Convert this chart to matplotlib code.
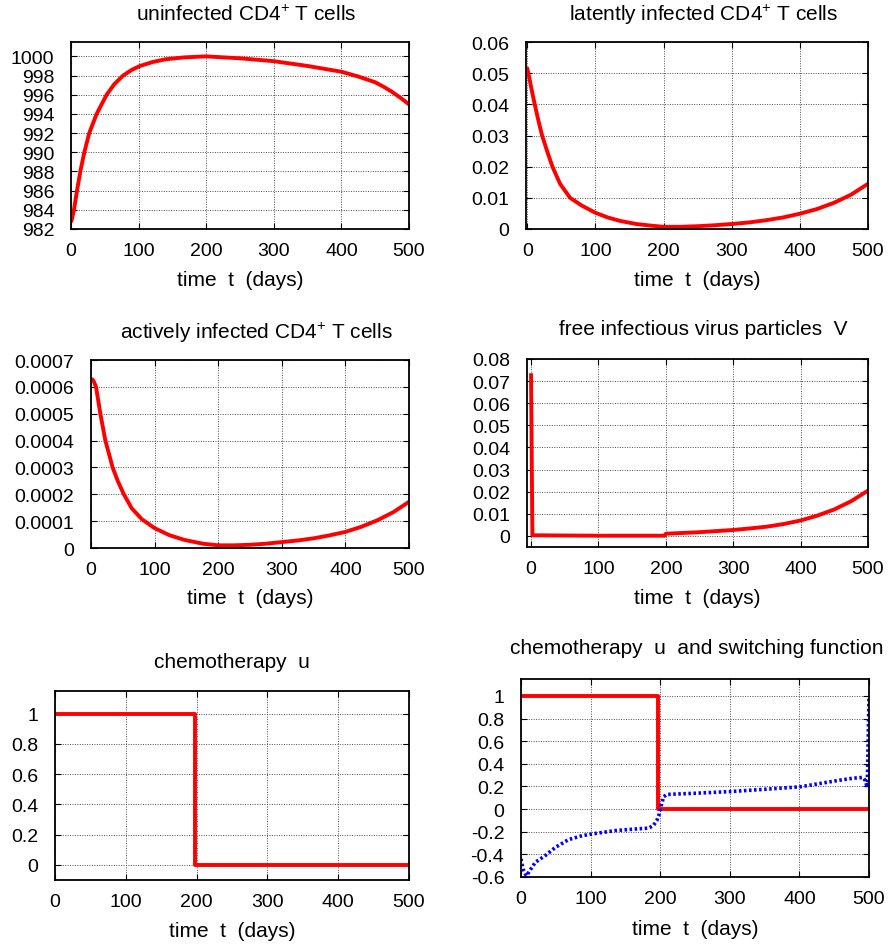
import matplotlib
matplotlib.use("Agg")
from matplotlib import pyplot as plt

plt.rcParams['font.family'] = ['Liberation Sans', 'DejaVu Sans']
plt.rcParams['mathtext.fontset'] = 'custom'
plt.rcParams['mathtext.rm'] = 'Liberation Sans'
plt.rcParams['mathtext.it'] = 'Liberation Sans'
plt.rcParams['font.size'] = 14

# --- data ---
t_T = [0, 1, 4.4, 8.9, 13.8, 19.7, 27, 37.9, 52.7, 64, 77, 90, 102, 120, 140, 168, 200, 250, 300,
       350, 400, 425, 450, 462, 475, 487, 500]
T = [982.8, 982.9, 984.0, 986.0, 988.0, 990.0, 992.0, 994.0, 996.0, 997.1, 998.0, 998.6, 999.0, 999.4,
     999.7, 999.9, 1000.0, 999.8, 999.5, 999.0, 998.4, 997.9, 997.3, 996.85, 996.3, 995.7, 995.0]

t_L = [0, 1.5, 6, 10.8, 16, 21.6, 29, 36.8, 48, 62.7, 80, 100, 118, 136, 160, 185, 200, 225, 250, 275,
       300, 325, 350, 375, 400, 425, 450, 475, 500]
L = [0.0513, 0.050, 0.045, 0.040, 0.035, 0.030, 0.025, 0.020, 0.0145, 0.010, 0.0075, 0.0052, 0.0037,
     0.0026, 0.0016, 0.0010, 0.0007, 0.0007, 0.0009, 0.0012, 0.0016, 0.0021, 0.0028, 0.0037, 0.0049,
     0.0064, 0.0084, 0.0110, 0.0145]

t_A = [0, 2, 4, 7.9, 14.7, 22.6, 34, 42, 51.6, 64, 80, 100, 123, 147, 176, 200, 225, 250, 275, 300,
       325, 350, 375, 400, 425, 450, 475, 500]
A = [0.000624, 0.000628, 0.000622, 0.0006, 0.0005, 0.0004, 0.0003, 0.00025, 0.0002, 0.000148, 0.000107,
     0.000074, 0.000048, 0.00003, 0.000016, 0.00001, 0.00001, 0.000012, 0.000016, 0.000022, 0.000028,
     0.000036, 0.000047, 0.00006, 0.000079, 0.000103, 0.000133, 0.000172]

t_V = [0, 2, 50, 100, 150, 198, 200, 250, 300, 325, 350, 375, 400, 425, 450, 475, 500]
V = [0.0727, 0.0003, 0.0002, 0.0001, 0.0001, 0.0001, 0.0010, 0.0017, 0.0027, 0.0034, 0.0042, 0.0054,
     0.0070, 0.0092, 0.0120, 0.0157, 0.0205]

t_u = [0, 197.5, 197.5, 500]
u = [1, 1, 0, 0]

t_s = [0, 3, 6, 8, 12, 20.6, 35, 49, 68, 87.6, 107, 135, 164, 183, 190, 195, 198.6, 201.4, 205, 210,
       250, 300, 350, 401, 429, 458, 477, 491, 495, 497.5, 500]
s = [-0.44, -0.53, -0.57, -0.59, -0.55, -0.47, -0.41, -0.34, -0.27, -0.235, -0.215, -0.19, -0.176,
     -0.168, -0.147, -0.103, -0.044, 0.03, 0.11, 0.13, 0.14, 0.155, 0.175, 0.197, 0.226, 0.256, 0.273,
     0.28, 0.25, 0.19, 1.0]

x_ticks = [0, 100, 200, 300, 400, 500]
W, H = 891, 945
RED = '#ff0000'

fig = plt.figure(figsize=(W / 100, H / 100), dpi=100)


def add_panel(left, right, top, bottom):
    ax = fig.add_axes([left / W, 1 - bottom / H, (right - left) / W, (bottom - top) / H])
    ax.grid(True, color='0.3', linestyle=(0, (1, 1.5)), linewidth=0.7)
    ax.tick_params(direction='in', top=True, right=True, length=4, width=0.8, labelsize=14)
    ax.tick_params(axis='y', pad=12)
    ax.tick_params(axis='x', pad=9.5)
    for sp in ax.spines.values():
        sp.set_linewidth(1.3)
    ax.set_xticks(x_ticks)
    ax.set_xticklabels([str(v) for v in x_ticks])
    return ax


def label(x, y, text):
    fig.text(x / W, 1 - y / H, text, ha='center', va='center', fontsize=15)


xlab = "time  t  (days)"

# uninfected
ax = add_panel(71, 409, 43, 230)
ax.plot(t_T, T, color=RED, lw=2.8)
ax.set_xlim(0, 500)
ax.set_ylim(982, 1001.5)
ax.set_yticks(range(982, 1001, 2))
label(246, 15, r"uninfected CD4$^{+}$ T cells")
label(240, 280, xlab)

# latently infected
ax = add_panel(526, 868, 43, 230)
ax.plot(t_L, L, color=RED, lw=2.8)
ax.set_xlim(-2, 500)
ax.set_ylim(0, 0.06)
ax.set_yticks([0, 0.01, 0.02, 0.03, 0.04, 0.05, 0.06])
ax.set_yticklabels(["0", "0.01", "0.02", "0.03", "0.04", "0.05", "0.06"])
label(704, 15, r"latently infected CD4$^{+}$ T cells")
label(697, 280, xlab)

# actively infected
ax = add_panel(91, 409, 361, 549)
ax.plot(t_A, A, color=RED, lw=2.8)
ax.set_xlim(0, 500)
ax.set_ylim(0, 0.0007)
ax.set_yticks([0, 0.0001, 0.0002, 0.0003, 0.0004, 0.0005, 0.0006, 0.0007])
ax.set_yticklabels(["0", "0.0001", "0.0002", "0.0003", "0.0004", "0.0005", "0.0006", "0.0007"])
label(256, 333, r"actively infected CD4$^{+}$ T cells")
label(250, 598, xlab)

# free virus
ax = add_panel(527, 868, 360, 548)
ax.plot(t_V, V, color=RED, lw=2.8)
ax.set_xlim(-6, 500)
ax.set_ylim(-0.005, 0.08)
ax.set_yticks([0, 0.01, 0.02, 0.03, 0.04, 0.05, 0.06, 0.07, 0.08])
ax.set_yticklabels(["0", "0.01", "0.02", "0.03", "0.04", "0.05", "0.06", "0.07", "0.08"])
label(703, 330, "free infectious virus particles  V")
label(697, 598, xlab)

# chemotherapy u
ax = add_panel(55, 409, 692, 881)
ax.plot(t_u, u, color=RED, lw=2.8)
ax.set_xlim(0, 500)
ax.set_ylim(-0.1, 1.15)
ax.set_yticks([0, 0.2, 0.4, 0.6, 0.8, 1])
ax.set_yticklabels(["0", "0.2", "0.4", "0.6", "0.8", "1"])
label(232, 663, "chemotherapy  u")
label(232, 932, xlab)

# chemotherapy and switching function
ax = add_panel(521, 869, 680, 878)
ax.plot(t_u, u, color=RED, lw=2.8)
ax.plot(t_s, s, color='#0000ff', lw=2.6, linestyle=(0, (0.7, 0.7)))
ax.set_xlim(0, 500)
ax.set_ylim(-0.6, 1.15)
ax.set_yticks([-0.6, -0.4, -0.2, 0, 0.2, 0.4, 0.6, 0.8, 1])
ax.set_yticklabels(["-0.6", "-0.4", "-0.2", "0", "0.2", "0.4", "0.6", "0.8", "1"])
label(697, 648, "chemotherapy  u  and switching function")
label(695, 930, xlab)

fig.savefig("out.png", dpi=100)
